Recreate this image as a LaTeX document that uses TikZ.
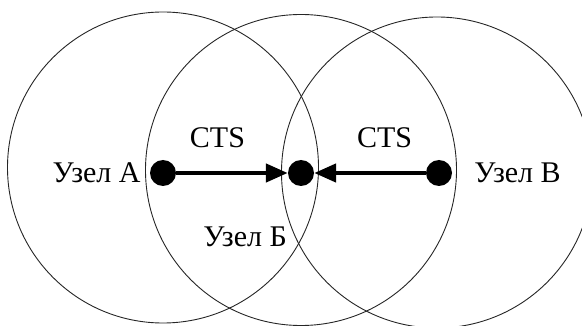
\documentclass[tikz,border=0pt]{standalone}
\usepackage{fontspec}
\setmainfont{Liberation Serif}
\usepackage{tikz}
\usetikzlibrary{positioning, arrows.meta}

\begin{document}
\begin{tikzpicture}[x=1pt, y=-1pt,
        zone/.style={black!85, line width=0.9pt},
        dot/.style={circle, fill=black, inner sep=0pt, minimum size=26pt},
        lbl/.style={inner sep=0pt, font=\fontsize{30}{36}\selectfont},
        cts/.style={line width=4.5pt, -{Triangle[length=22pt, width=18pt]}}]
        \useasboundingbox (0,0) rectangle (582,326);
        \foreach \x/\y in {163/167.5, 301/170, 437/172.5} \draw[zone] (\x,\y) circle (155.5pt);
        \node[dot] (a) at (163,173) {};
        \node[dot] (b) at (301,173) {};
        \node[dot] (c) at (439,173) {};
        \draw[cts] (a) -- node[lbl, pos=0.37, above=23pt] (ctsa) {CTS} (b);
        \draw[cts] (c) -- node[lbl, pos=0.37, above=23pt] (ctsc) {CTS} (b);
        \node[lbl, left=9pt of a] (la) {Узел А};
        \node[lbl, anchor=base east] (lb) at (287,247) {Узел Б};
        \node[lbl, right=22pt of c] (lc) {Узел В};
    \end{tikzpicture}
\end{document}
